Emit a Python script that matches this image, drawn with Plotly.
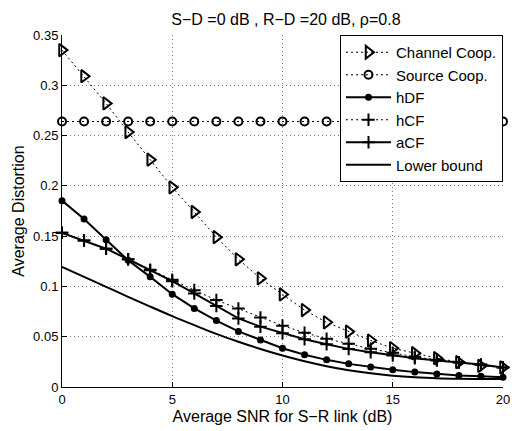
import plotly.graph_objects as go

# Average SNR of the S-R link (dB)
snr = list(range(0, 21))

# Average distortion per scheme
channel_coop = [0.335, 0.309, 0.282, 0.2535, 0.226, 0.1985, 0.174, 0.149, 0.127, 0.108,
                0.092, 0.0765, 0.0643, 0.0551, 0.0462, 0.0386, 0.0336, 0.0287, 0.0247, 0.021, 0.0195]
source_coop = [0.264] * 21
hdf = [0.1853, 0.167, 0.1464, 0.126, 0.1095, 0.0923, 0.0781, 0.066, 0.0553, 0.0468,
       0.0386, 0.032, 0.027, 0.023, 0.0198, 0.0171, 0.0148, 0.0129, 0.0115, 0.0106, 0.0096]
hcf = [0.1533, 0.1457, 0.1375, 0.127, 0.1165, 0.1066, 0.0963, 0.0864, 0.078, 0.069,
       0.061, 0.054, 0.048, 0.043, 0.038, 0.034, 0.030, 0.027, 0.0245, 0.022, 0.0195]
acf = [0.1533, 0.1457, 0.1375, 0.127, 0.116, 0.1052, 0.093, 0.0805, 0.0682, 0.060,
       0.0534, 0.0475, 0.0425, 0.0379, 0.0346, 0.0313, 0.0287, 0.0264, 0.0244, 0.0224, 0.0195]
lower_bound = [0.1194, 0.1095, 0.0996, 0.0897, 0.080, 0.0705, 0.0615, 0.0528, 0.045, 0.0378,
               0.0313, 0.0256, 0.0207, 0.0167, 0.0136, 0.0113, 0.0097, 0.0087, 0.0082, 0.008, 0.0079]

x_ticks = [0, 5, 10, 15, 20]
y_ticks = [0, 0.05, 0.1, 0.15, 0.2, 0.25, 0.3, 0.35]
y_tick_text = ["0", "0.05", "0.1", "0.15", "0.2", "0.25", "0.3", "0.35"]

FONT = "Liberation Sans, Arial, sans-serif"
BLACK = "black"
DOTTED = "2px,3px"

fig = go.Figure()

fig.add_trace(go.Scatter(
    x=snr, y=channel_coop, name="Channel Coop.", mode="lines+markers",
    line=dict(color=BLACK, width=1, dash=DOTTED),
    marker=dict(symbol="triangle-right-open", size=11, color=BLACK, line=dict(width=2, color=BLACK)),
    cliponaxis=False))
fig.add_trace(go.Scatter(
    x=snr, y=source_coop, name="Source Coop.", mode="lines+markers",
    line=dict(color=BLACK, width=1, dash=DOTTED),
    marker=dict(symbol="circle-open", size=8, color=BLACK, line=dict(width=2, color=BLACK)),
    cliponaxis=False))
fig.add_trace(go.Scatter(
    x=snr, y=hdf, name="hDF", mode="lines+markers",
    line=dict(color=BLACK, width=2),
    marker=dict(symbol="circle", size=7, color=BLACK),
    cliponaxis=False))
fig.add_trace(go.Scatter(
    x=snr, y=hcf, name="hCF", mode="lines+markers",
    line=dict(color=BLACK, width=1, dash=DOTTED),
    marker=dict(symbol="cross-thin-open", size=9, color=BLACK, line=dict(width=2, color=BLACK)),
    cliponaxis=False))
fig.add_trace(go.Scatter(
    x=snr, y=acf, name="aCF", mode="lines+markers",
    line=dict(color=BLACK, width=2),
    marker=dict(symbol="cross-thin-open", size=9, color=BLACK, line=dict(width=2, color=BLACK)),
    cliponaxis=False))
fig.add_trace(go.Scatter(
    x=snr, y=lower_bound, name="Lower bound", mode="lines",
    line=dict(color=BLACK, width=2, shape="spline")))

# Left/bottom axes only, ticks pointing inward, dotted grid
axis_common = dict(
    showline=True, linecolor=BLACK, linewidth=1, mirror=False,
    ticks="inside", ticklen=5, tickcolor=BLACK,
    showgrid=True, gridcolor="#7a7a7a", gridwidth=1, griddash="1px,3px",
    zeroline=False, tickfont=dict(family=FONT, size=13, color=BLACK),
)

fig.update_xaxes(range=[0, 20], tickvals=x_ticks, ticktext=[str(v) for v in x_ticks],
                 title=dict(text="Average SNR for S\u2212R link (dB)", standoff=5,
                            font=dict(family=FONT, size=16, color=BLACK)),
                 **axis_common)
fig.update_yaxes(range=[0, 0.35], tickvals=y_ticks, ticktext=y_tick_text,
                 title=dict(text="Average Distortion", standoff=4,
                            font=dict(family=FONT, size=16, color=BLACK)),
                 **axis_common)

fig.update_layout(
    width=518, height=431,
    margin=dict(l=62, r=8, t=35, b=42),
    paper_bgcolor="white", plot_bgcolor="white",
    title=dict(text="S\u2212D =0 dB , R\u2212D =20 dB, \u03c1=0.8", x=0.552, xanchor="center",
               y=0.955, yanchor="middle", font=dict(family=FONT, size=16, color=BLACK)),
    legend=dict(x=1, xanchor="right", y=1, yanchor="top",
                bgcolor="white", bordercolor=BLACK, borderwidth=1,
                font=dict(family=FONT, size=15, color=BLACK),
                tracegroupgap=0, itemwidth=45),
    showlegend=True,
)

fig.write_html("out.html")
